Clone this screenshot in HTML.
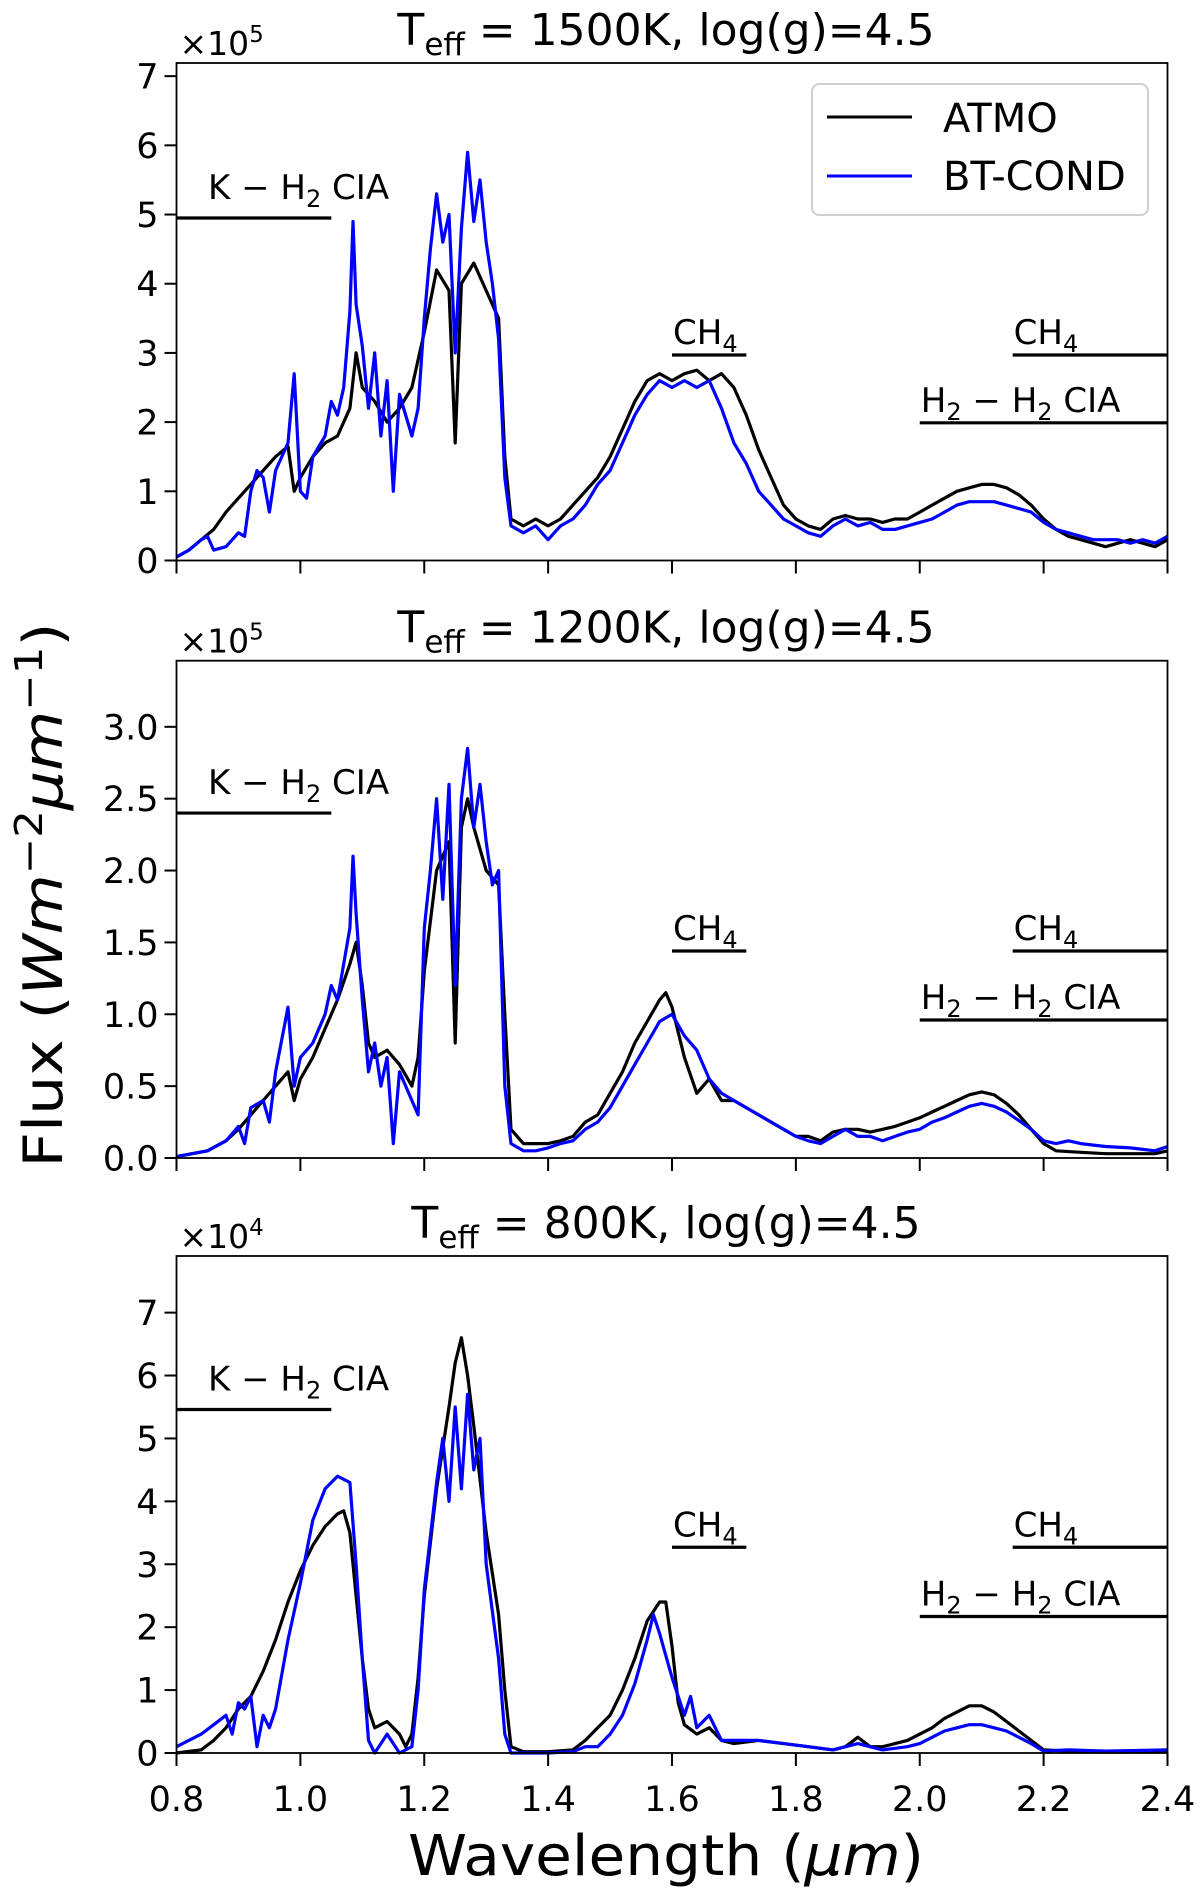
<!DOCTYPE html>
<html><head><meta charset="utf-8"><title>ATMO vs BT-COND spectra</title>
<style>
html,body{margin:0;padding:0;background:#fff;}
svg{display:block;font-family:"DejaVu Sans","Liberation Sans",sans-serif;}
</style></head>
<body>
<svg id="fig" width="1200" height="1895" viewBox="0 0 1200 1895" xmlns="http://www.w3.org/2000/svg">
<rect x="0" y="0" width="1200" height="1895" fill="#fff"/>
</svg>
<script>
// ---- data (panel 1: Teff 1500K, units 1e5) ----
const p1AtmoWl=[0.80,0.82,0.84,0.86,0.88,0.90,0.92,0.94,0.96,0.98,0.99,1.00,1.02,1.04,1.06,1.08,1.09,1.10,1.12,1.14,1.16,1.18,1.20,1.22,1.24,1.25,1.26,1.28,1.30,1.32,1.33,1.34,1.36,1.38,1.40,1.42,1.44,1.46,1.48,1.50,1.52,1.54,1.56,1.58,1.60,1.62,1.64,1.66,1.68,1.70,1.72,1.74,1.76,1.78,1.80,1.82,1.84,1.86,1.88,1.90,1.92,1.94,1.96,1.98,2.00,2.02,2.04,2.06,2.08,2.10,2.12,2.14,2.16,2.18,2.20,2.22,2.24,2.26,2.28,2.30,2.32,2.34,2.36,2.38,2.40];
const p1AtmoFlux=[0.05,0.15,0.3,0.45,0.7,0.9,1.1,1.3,1.5,1.65,1.0,1.2,1.5,1.7,1.8,2.2,3.0,2.5,2.3,2.0,2.2,2.5,3.3,4.2,3.9,1.7,4.0,4.3,3.9,3.5,1.5,0.6,0.5,0.6,0.5,0.6,0.8,1.0,1.2,1.5,1.9,2.3,2.6,2.7,2.6,2.7,2.75,2.6,2.7,2.5,2.1,1.6,1.2,0.8,0.6,0.5,0.45,0.6,0.65,0.6,0.6,0.55,0.6,0.6,0.7,0.8,0.9,1.0,1.05,1.1,1.1,1.05,0.95,0.8,0.6,0.45,0.35,0.3,0.25,0.2,0.25,0.3,0.25,0.2,0.3];
const p1BtWl=[0.80,0.82,0.84,0.85,0.86,0.88,0.90,0.91,0.92,0.93,0.94,0.95,0.96,0.98,0.99,1.00,1.01,1.02,1.04,1.05,1.06,1.07,1.08,1.085,1.09,1.10,1.11,1.12,1.13,1.14,1.15,1.16,1.18,1.19,1.20,1.21,1.22,1.23,1.24,1.25,1.26,1.27,1.28,1.29,1.30,1.31,1.32,1.33,1.34,1.36,1.38,1.40,1.42,1.44,1.46,1.48,1.50,1.52,1.54,1.56,1.58,1.60,1.62,1.64,1.66,1.68,1.70,1.72,1.74,1.76,1.78,1.80,1.82,1.84,1.86,1.88,1.90,1.92,1.94,1.96,1.98,2.00,2.02,2.04,2.06,2.08,2.10,2.12,2.14,2.16,2.18,2.20,2.22,2.24,2.26,2.28,2.30,2.32,2.34,2.36,2.38,2.40];
const p1BtFlux=[0.05,0.15,0.3,0.35,0.15,0.2,0.4,0.35,1.0,1.3,1.2,0.7,1.3,1.7,2.7,1.0,0.9,1.5,1.8,2.3,2.1,2.5,3.6,4.9,3.7,3.1,2.2,3.0,1.8,2.6,1.0,2.4,1.8,2.2,3.5,4.5,5.3,4.6,5.0,3.0,4.8,5.9,4.9,5.5,4.6,4.0,3.2,1.2,0.5,0.4,0.5,0.3,0.5,0.6,0.8,1.1,1.3,1.7,2.1,2.4,2.6,2.5,2.6,2.5,2.6,2.2,1.7,1.4,1.0,0.8,0.6,0.5,0.4,0.35,0.5,0.6,0.5,0.55,0.45,0.45,0.5,0.55,0.6,0.7,0.8,0.85,0.85,0.85,0.8,0.75,0.7,0.55,0.45,0.4,0.35,0.3,0.3,0.3,0.25,0.3,0.25,0.35];
// ---- panel 2: Teff 1200K, units 1e5 ----
const p2AtmoWl=[0.80,0.85,0.88,0.90,0.92,0.94,0.96,0.98,0.99,1.00,1.02,1.04,1.06,1.08,1.09,1.10,1.11,1.12,1.14,1.16,1.18,1.19,1.20,1.22,1.24,1.25,1.26,1.27,1.28,1.30,1.32,1.33,1.34,1.36,1.38,1.40,1.42,1.44,1.46,1.48,1.50,1.52,1.54,1.56,1.58,1.59,1.60,1.62,1.64,1.66,1.68,1.70,1.72,1.74,1.76,1.78,1.80,1.82,1.84,1.86,1.88,1.90,1.92,1.94,1.96,1.98,2.00,2.02,2.04,2.06,2.08,2.10,2.12,2.14,2.16,2.18,2.20,2.22,2.26,2.30,2.34,2.38,2.40];
const p2AtmoFlux=[0.01,0.05,0.12,0.2,0.3,0.4,0.5,0.6,0.4,0.55,0.7,0.9,1.1,1.35,1.5,1.2,0.8,0.7,0.75,0.65,0.5,0.7,1.3,2.0,2.2,0.8,2.3,2.5,2.3,2.0,1.9,1.0,0.2,0.1,0.1,0.1,0.12,0.15,0.25,0.3,0.45,0.6,0.8,0.95,1.1,1.15,1.05,0.7,0.45,0.55,0.4,0.4,0.35,0.3,0.25,0.2,0.15,0.15,0.12,0.18,0.2,0.2,0.18,0.2,0.22,0.25,0.28,0.32,0.36,0.4,0.44,0.46,0.44,0.38,0.3,0.2,0.1,0.05,0.04,0.03,0.03,0.03,0.05];
const p2BtWl=[0.80,0.85,0.88,0.90,0.91,0.92,0.94,0.95,0.96,0.98,0.99,1.00,1.02,1.04,1.05,1.06,1.08,1.085,1.09,1.10,1.11,1.12,1.13,1.14,1.15,1.16,1.18,1.19,1.20,1.21,1.22,1.23,1.24,1.25,1.26,1.27,1.28,1.29,1.30,1.31,1.32,1.33,1.34,1.36,1.38,1.40,1.42,1.44,1.46,1.48,1.50,1.52,1.54,1.56,1.58,1.60,1.62,1.64,1.66,1.68,1.70,1.72,1.74,1.76,1.78,1.80,1.82,1.84,1.86,1.88,1.90,1.92,1.94,1.96,1.98,2.00,2.02,2.04,2.06,2.08,2.10,2.12,2.14,2.16,2.18,2.20,2.22,2.24,2.26,2.30,2.34,2.38,2.40];
const p2BtFlux=[0.01,0.05,0.12,0.22,0.1,0.35,0.4,0.25,0.6,1.05,0.5,0.7,0.8,1.0,1.2,1.1,1.6,2.1,1.7,1.1,0.6,0.8,0.5,0.7,0.1,0.6,0.4,0.3,1.6,2.0,2.5,1.8,2.6,1.2,2.5,2.85,2.3,2.6,2.2,1.9,2.0,0.5,0.1,0.05,0.05,0.07,0.1,0.12,0.2,0.25,0.35,0.5,0.65,0.8,0.95,1.0,0.85,0.75,0.55,0.45,0.4,0.35,0.3,0.25,0.2,0.15,0.12,0.1,0.15,0.2,0.15,0.15,0.12,0.15,0.18,0.2,0.25,0.28,0.32,0.36,0.38,0.36,0.32,0.26,0.2,0.12,0.1,0.12,0.1,0.08,0.07,0.05,0.08];
// ---- panel 3: Teff 800K, units 1e4 ----
const p3AtmoWl=[0.80,0.84,0.86,0.88,0.90,0.92,0.94,0.96,0.98,1.00,1.02,1.04,1.06,1.07,1.08,1.09,1.10,1.11,1.12,1.14,1.16,1.17,1.18,1.19,1.20,1.22,1.24,1.25,1.26,1.27,1.28,1.30,1.32,1.33,1.34,1.36,1.40,1.44,1.46,1.48,1.50,1.52,1.54,1.56,1.58,1.59,1.60,1.61,1.62,1.64,1.66,1.68,1.70,1.74,1.78,1.82,1.86,1.88,1.90,1.92,1.94,1.96,1.98,2.00,2.02,2.04,2.06,2.08,2.10,2.12,2.14,2.16,2.18,2.20,2.24,2.30,2.40];
const p3AtmoFlux=[0.0,0.05,0.2,0.4,0.7,0.9,1.3,1.8,2.4,2.9,3.3,3.6,3.8,3.85,3.5,2.5,1.5,0.7,0.4,0.5,0.3,0.1,0.3,1.2,2.5,4.2,5.5,6.2,6.6,6.0,5.2,3.5,2.2,1.0,0.1,0.02,0.02,0.05,0.2,0.4,0.6,1.0,1.5,2.1,2.4,2.4,1.7,0.8,0.45,0.3,0.4,0.2,0.15,0.2,0.15,0.1,0.05,0.1,0.25,0.1,0.1,0.15,0.2,0.3,0.4,0.55,0.65,0.75,0.75,0.65,0.5,0.35,0.2,0.05,0.03,0.02,0.02];
const p3BtWl=[0.80,0.84,0.86,0.88,0.89,0.90,0.91,0.92,0.93,0.94,0.95,0.96,0.98,1.00,1.02,1.04,1.06,1.08,1.09,1.10,1.11,1.12,1.14,1.16,1.18,1.19,1.20,1.22,1.23,1.24,1.25,1.26,1.27,1.28,1.29,1.30,1.32,1.33,1.34,1.40,1.44,1.46,1.48,1.50,1.52,1.54,1.56,1.57,1.58,1.60,1.62,1.63,1.64,1.66,1.68,1.70,1.74,1.78,1.82,1.86,1.90,1.94,1.98,2.00,2.02,2.04,2.06,2.08,2.10,2.12,2.14,2.16,2.18,2.20,2.24,2.30,2.40];
const p3BtFlux=[0.1,0.3,0.45,0.6,0.3,0.8,0.7,0.9,0.1,0.6,0.4,0.7,1.8,2.7,3.7,4.2,4.4,4.3,3.0,1.5,0.2,0.0,0.3,0.0,0.1,1.0,2.6,4.3,5.0,4.0,5.5,4.2,5.7,4.5,5.0,3.0,1.5,0.3,0.0,0.0,0.02,0.1,0.1,0.3,0.6,1.1,1.8,2.2,1.9,1.2,0.6,0.9,0.4,0.6,0.2,0.2,0.2,0.15,0.1,0.05,0.15,0.05,0.1,0.15,0.25,0.35,0.4,0.45,0.45,0.4,0.35,0.25,0.15,0.03,0.05,0.03,0.05];
// ---- axis tick labels ----
const xTicks=[0.8,1.0,1.2,1.4,1.6,1.8,2.0,2.2,2.4];
const xTickLabels=["0.8","1.0","1.2","1.4","1.6","1.8","2.0","2.2","2.4"];
const p1YTicks=[0,1,2,3,4,5,6,7];
const p1YTickLabels=["0","1","2","3","4","5","6","7"];
const p2YTicks=[0,0.5,1.0,1.5,2.0,2.5,3.0];
const p2YTickLabels=["0.0","0.5","1.0","1.5","2.0","2.5","3.0"];
const p3YTicks=[0,1,2,3,4,5,6,7];
const p3YTickLabels=["0","1","2","3","4","5","6","7"];
const panelTemps=["1500K","1200K","800K"];
const panelExps=["5","5","4"];
// annotation levels (data units): K-H2, CH4, H2-H2
const kLevels=[4.95,2.40,5.46];
const ch4Levels=[2.97,1.44,3.27];
const h2Levels=[1.99,0.96,2.17];

const NS="http://www.w3.org/2000/svg";
const svg=document.getElementById('fig');
function mk(tag,attrs,parent){const e=document.createElementNS(NS,tag);for(const k in attrs)e.setAttribute(k,attrs[k]);(parent||svg).appendChild(e);return e;}

const X0=176.5,X1=1167.5;
function xs(w){return X0+(w-0.8)/(2.4-0.8)*(X1-X0);}

const panels=[
 {top:63,bottom:560.5,ymax:7.19,atmo:[p1AtmoWl,p1AtmoFlux],bt:[p1BtWl,p1BtFlux],yt:p1YTicks,ytl:p1YTickLabels},
 {top:660.7,bottom:1158,ymax:3.46,atmo:[p2AtmoWl,p2AtmoFlux],bt:[p2BtWl,p2BtFlux],yt:p2YTicks,ytl:p2YTickLabels},
 {top:1256,bottom:1753,ymax:7.9,atmo:[p3AtmoWl,p3AtmoFlux],bt:[p3BtWl,p3BtFlux],yt:p3YTicks,ytl:p3YTickLabels}
];

panels.forEach((p,i)=>{
  const g=mk('g',{});
  
  
  const ys=v=>p.bottom-v/p.ymax*(p.bottom-p.top);
  [['atmo','#000'],['bt','#0000ff']].forEach(([k,c])=>{
    const [wl,fl]=p[k];
    const d=wl.map((w,j)=>(j?'L':'M')+xs(w).toFixed(1)+','+ys(fl[j]).toFixed(1)).join('');
    const path=mk('path',{d:d,fill:'none',stroke:c,'stroke-width':3.2,'stroke-linejoin':'round'},g);
    
    
  });
  const ann=[[0.8,1.05,kLevels[i],208,19,'K'],[1.6,1.72,ch4Levels[i],xs(1.6)+1,11,'CH4a'],[2.15,2.4,ch4Levels[i],xs(2.15)+1,11,'CH4b'],[2.0,2.4,h2Levels[i],xs(2.0)+1,11,'H2']];
  ann.forEach(a=>{
    const y=ys(a[2]);
    const ln=mk('line',{x1:xs(a[0]),x2:xs(a[1]),y1:y,y2:y,stroke:'#000','stroke-width':3.2},g);
    
    
    const t=mk('text',{x:a[3],y:y-a[4],'font-size':34,fill:'#000'},g);
    
    
    if(a[5]==='K') t.innerHTML='K − H<tspan font-size="24" dy="8">2</tspan><tspan dy="-8"> CIA</tspan>';
    else if(a[5]==='H2') t.innerHTML='H<tspan font-size="24" dy="8">2</tspan><tspan dy="-8"> − H</tspan><tspan font-size="24" dy="8">2</tspan><tspan dy="-8"> CIA</tspan>';
    else t.innerHTML='CH<tspan font-size="24" dy="8">4</tspan>';
  });
  const fr=mk('rect',{x:X0,y:p.top,width:X1-X0,height:p.bottom-p.top,fill:'none',stroke:'#000','stroke-width':1.8},g);
  
  
  p.yt.forEach((v,j)=>{
    const y=ys(v);
    const tk=mk('line',{x1:X0-12,x2:X0,y1:y,y2:y,stroke:'#000','stroke-width':2},g);
    
    
    const tl=mk('text',{x:X0-18,y:y+12.5,'font-size':35,'text-anchor':'end',fill:'#000'},g);
    
    
    tl.textContent=p.ytl[j];
  });
  xTicks.forEach((w,j)=>{
    const x=xs(w);
    const tk=mk('line',{x1:x,x2:x,y1:p.bottom,y2:p.bottom+13,stroke:'#000','stroke-width':2},g);
    
    
    if(i===2){
      const tl=mk('text',{x:x,y:p.bottom+58,'font-size':35,'text-anchor':'middle',fill:'#000'},g);
      
      
      tl.textContent=xTickLabels[j];
    }
  });
  const m=mk('text',{x:X0+3,y:p.top-8,'font-size':33,fill:'#000'},g);
  
  
  m.innerHTML='×10<tspan font-size="23" dy="-13">'+panelExps[i]+'</tspan>';
  const t=mk('text',{x:666,y:p.top-18,'font-size':44,'text-anchor':'middle',fill:'#000'},g);
  
  
  t.innerHTML='T<tspan font-size="31" dy="10">eff</tspan><tspan dy="-10"> = '+panelTemps[i]+', log(g)=4.5</tspan>';
});

const lg=mk('g',{});


mk('rect',{x:812,y:84,width:336,height:131,rx:7,fill:'#fff',stroke:'#d0d0d0','stroke-width':2},lg);
const l1=mk('line',{x1:827,x2:912,y1:117,y2:117,stroke:'#000','stroke-width':3},lg);


const t1=mk('text',{x:943,y:132,'font-size':40,fill:'#000'},lg);


t1.textContent='ATMO';
const l2=mk('line',{x1:827,x2:912,y1:176,y2:176,stroke:'#0000ff','stroke-width':3},lg);


const t2=mk('text',{x:943,y:190,'font-size':40,fill:'#000'},lg);


t2.textContent='BT-COND';

const xl=mk('text',{x:666,y:1875,'font-size':56,'text-anchor':'middle',fill:'#000',textLength:516,lengthAdjust:'spacingAndGlyphs'});


xl.innerHTML='Wavelength (<tspan font-style="italic">μm</tspan>)';
const yl=mk('text',{x:0,y:0,'font-size':54,'text-anchor':'middle',fill:'#000',transform:'translate(62,895) rotate(-90)',textLength:545,lengthAdjust:'spacingAndGlyphs'});


yl.innerHTML='Flux (<tspan font-style="italic">Wm</tspan><tspan font-size="38" dy="-20">−2</tspan><tspan font-style="italic" dy="20">μm</tspan><tspan font-size="38" dy="-20">−1</tspan><tspan dy="20">)</tspan>';
</script>
</body></html>
